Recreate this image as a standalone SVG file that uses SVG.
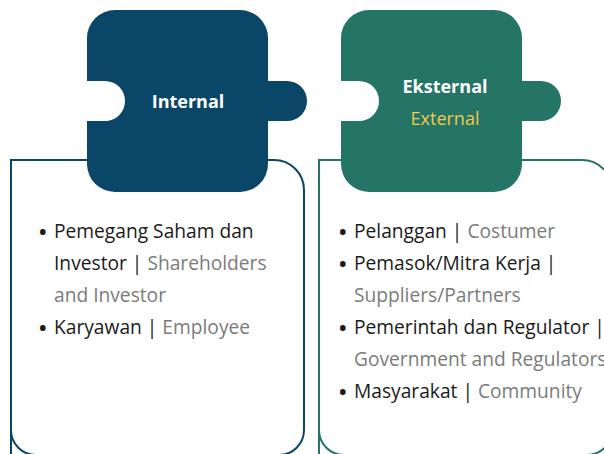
<svg xmlns="http://www.w3.org/2000/svg" width="604" height="454" viewBox="0 0 604 454">
<style>
.t{font-family:"Open Sans","Noto Sans",sans-serif;font-size:19.2px;fill:#1a1a1a}
.b{font-family:"Open Sans","Noto Sans",sans-serif;font-size:20px;font-weight:bold;fill:#1a1a1a}
.g{fill:#7b7b7b}
.h{font-family:"Open Sans","Noto Sans",sans-serif;font-size:18px;text-anchor:middle}
</style>
<rect width="604" height="454" fill="#ffffff"/>
<g id="internal">
<path d="M11,470 V160 H274 A30,30 0 0 1 304,190 V430 A25,25 0 0 1 279,455 H36 A25,25 0 0 1 11,430 Z" fill="#ffffff" stroke="#0a4668" stroke-width="2"/>
<path d="M115,10 H240 A28,28 0 0 1 268,38 V81 H287 A20,20 0 1 1 287,121 H268 V164 A28,28 0 0 1 240,192 H115 A28,28 0 0 1 87,164 V121 H105 A20,20 0 1 0 105,81 H87 V38 A28,28 0 0 1 115,10 Z" fill="#0a4668"/>
<text class="h" x="188" y="108" fill="#ffffff" font-weight="bold">Internal</text>
<text class="b" x="39" y="239">•</text>
<text class="t" x="54" y="238">Pemegang Saham dan</text>
<text class="t" x="54" y="270">Investor | <tspan class="g">Shareholders</tspan></text>
<text class="t g" x="54" y="302">and Investor</text>
<text class="b" x="39" y="335">•</text>
<text class="t" x="54" y="334">Karyawan | <tspan class="g">Employee</tspan></text>
</g>
<g id="external">
<path d="M319,470 V160 H582 A30,30 0 0 1 612,190 V430 A25,25 0 0 1 587,455 H344 A25,25 0 0 1 319,430 Z" fill="#ffffff" stroke="#257567" stroke-width="2"/>
<path d="M369,10 H494 A28,28 0 0 1 522,38 V81 H541 A20,20 0 1 1 541,121 H522 V164 A28,28 0 0 1 494,192 H369 A28,28 0 0 1 341,164 V121 H359 A20,20 0 1 0 359,81 H341 V38 A28,28 0 0 1 369,10 Z" fill="#257567"/>
<text class="h" x="445" y="93" fill="#ffffff" font-weight="bold">Eksternal</text>
<text class="h" x="445" y="125" fill="#f2c94c" font-size="19.5">External</text>
<text class="b" x="339" y="239">•</text>
<text class="t" x="354" y="238">Pelanggan | <tspan class="g">Costumer</tspan></text>
<text class="b" x="339" y="271">•</text>
<text class="t" x="354" y="270">Pemasok/Mitra Kerja |</text>
<text class="t g" x="354" y="302">Suppliers/Partners</text>
<text class="b" x="339" y="335">•</text>
<text class="t" x="354" y="334">Pemerintah dan Regulator |</text>
<text class="t g" x="354" y="366">Government and Regulators</text>
<text class="b" x="339" y="399">•</text>
<text class="t" x="354" y="398">Masyarakat | <tspan class="g">Community</tspan></text>
</g>
<g id="connectors"></g>
</svg>
